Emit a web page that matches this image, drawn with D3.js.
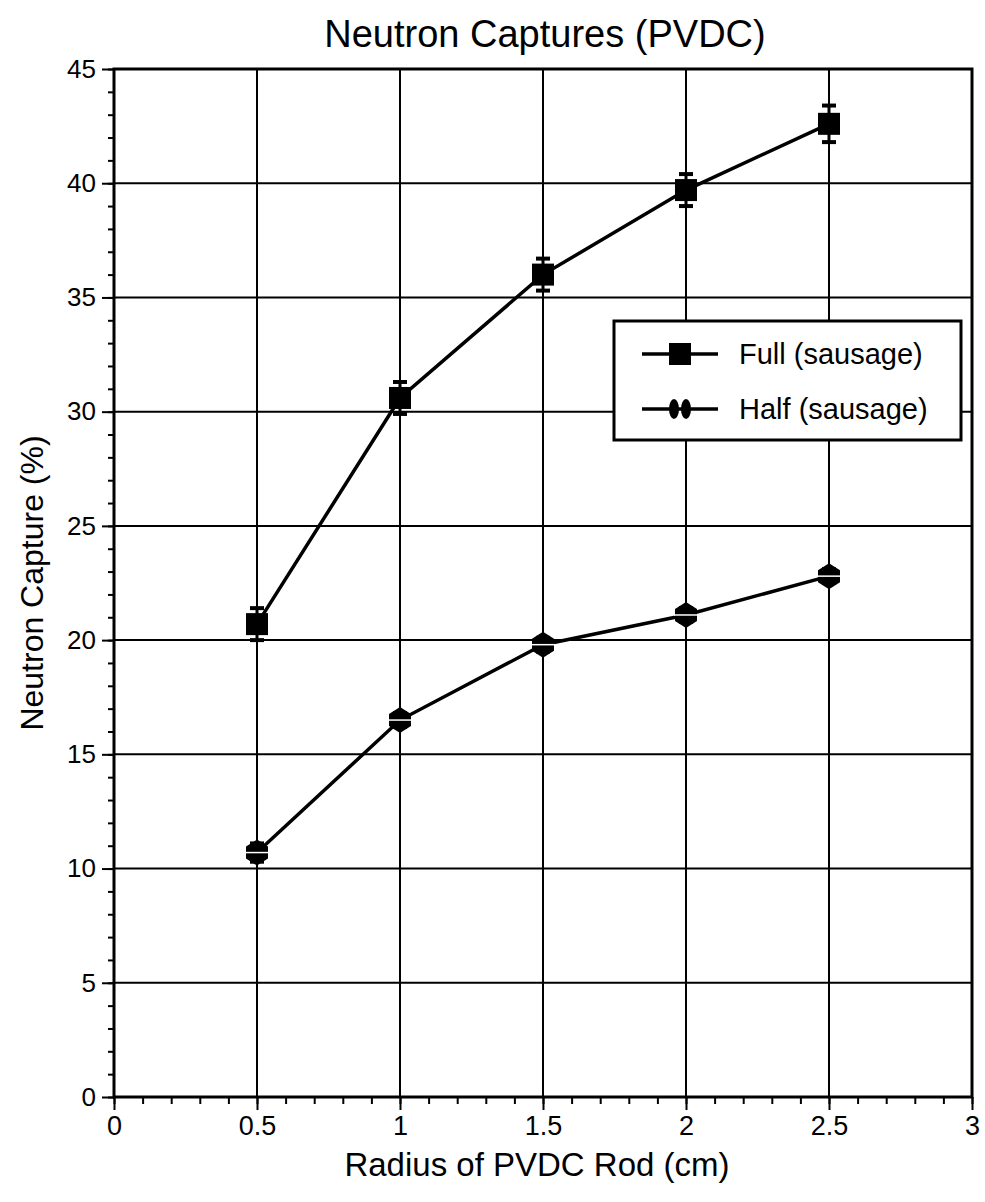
<!DOCTYPE html>
<html>
<head>
<meta charset="utf-8">
<script src="https://cdn.jsdelivr.net/npm/d3@7"></script>
<style>
  body { margin: 0; background: #fff; }
  svg text { font-family: "Liberation Sans", Arial, sans-serif; fill: #000; }
</style>
</head>
<body>
<svg width="985" height="1202"></svg>
<script>
// data
var radius = [0.5, 1.0, 1.5, 2.0, 2.5];
var fullCapture = [20.7, 30.6, 36.0, 39.7, 42.6];
var fullErr = [0.7, 0.7, 0.7, 0.7, 0.8];
var halfCapture = [10.7, 16.5, 19.8, 21.1, 22.8];
var halfErr = [0.4, 0.3, 0.3, 0.3, 0.3];
var xTicks = [0, 0.5, 1, 1.5, 2, 2.5, 3];
var yTicks = [0, 5, 10, 15, 20, 25, 30, 35, 40, 45];
var seriesNames = ["Full (sausage)", "Half (sausage)"];

var svg = d3.select("svg");
var pLeft = 114, pRight = 972, pTop = 69, pBottom = 1097;

var x = d3.scaleLinear().domain([0, 3]).range([pLeft, pRight]);
var y = d3.scaleLinear().domain([0, 45]).range([pBottom, pTop]);

// grid
var grid = svg.append("g").attr("stroke", "#000").attr("stroke-width", 2);
grid.selectAll("line.v").data(xTicks.slice(1, -1)).enter().append("line")
    .attr("x1", function(d) { return x(d); }).attr("x2", function(d) { return x(d); })
    .attr("y1", pTop).attr("y2", pBottom);
grid.selectAll("line.h").data(yTicks.slice(1, -1)).enter().append("line")
    .attr("x1", pLeft).attr("x2", pRight)
    .attr("y1", function(d) { return y(d); }).attr("y2", function(d) { return y(d); });

// minor ticks
var minorX = d3.range(0, 3.001, 0.1);
var minorY = d3.range(0, 45.001, 1);
svg.append("g").attr("transform", "translate(0," + pBottom + ")")
    .call(d3.axisBottom(x).tickValues(minorX).tickSize(7).tickFormat(""))
    .call(function(g) { g.select(".domain").remove(); g.selectAll("line").attr("stroke-width", 2); });
svg.append("g").attr("transform", "translate(" + pLeft + ",0)")
    .call(d3.axisLeft(y).tickValues(minorY).tickSize(6).tickFormat(""))
    .call(function(g) { g.select(".domain").remove(); g.selectAll("line").attr("stroke-width", 2); });

// major axes
var xAxis = svg.append("g").attr("transform", "translate(0," + pBottom + ")")
    .call(d3.axisBottom(x).tickValues(xTicks).tickSize(13).tickPadding(6).tickFormat(d3.format("")));
xAxis.select(".domain").remove();
xAxis.selectAll("line").attr("stroke-width", 2);
xAxis.selectAll("text").style("font-size", "27px");

var yAxis = svg.append("g").attr("transform", "translate(" + pLeft + ",0)")
    .call(d3.axisLeft(y).tickValues(yTicks).tickSize(12).tickPadding(6));
yAxis.select(".domain").remove();
yAxis.selectAll("line").attr("stroke-width", 2);
yAxis.selectAll("text").style("font-size", "26px");

// frame
svg.append("rect").attr("x", pLeft).attr("y", pTop)
    .attr("width", pRight - pLeft).attr("height", pBottom - pTop)
    .attr("fill", "none").attr("stroke", "#000").attr("stroke-width", 3);

var line = d3.line()
    .x(function(d) { return x(d[0]); })
    .y(function(d) { return y(d[1]); });

function drawSeries(vals, errs, marker) {
    var pts = radius.map(function(r, i) { return [r, vals[i], errs[i]]; });
    svg.append("path").datum(pts).attr("d", line)
        .attr("fill", "none").attr("stroke", "#000").attr("stroke-width", 3.5);
    var g = svg.append("g").selectAll("g").data(pts).enter().append("g")
        .attr("transform", function(d) { return "translate(" + x(d[0]) + "," + y(d[1]) + ")"; });
    g.append("line")
        .attr("y1", function(d) { return y(d[1] + d[2]) - y(d[1]); })
        .attr("y2", function(d) { return y(d[1] - d[2]) - y(d[1]); })
        .attr("stroke", "#000").attr("stroke-width", 3);
    g.selectAll("line.cap").data(function(d) { return [d[1] + d[2], d[1] - d[2]].map(function(v) { return y(v) - y(d[1]); }); })
        .enter().append("line")
        .attr("x1", -7).attr("x2", 7)
        .attr("y1", function(d) { return d; }).attr("y2", function(d) { return d; })
        .attr("stroke", "#000").attr("stroke-width", 4);
    marker(g);
}

function squareMarker(g) {
    g.append("rect").attr("x", -11).attr("y", -11).attr("width", 22).attr("height", 22).attr("fill", "#000");
}
function diamondMarker(g) {
    g.append("path").attr("d", "M0,-13 L11,-6 L11,6 L0,13 L-11,6 L-11,-6 Z").attr("fill", "#000");
    g.append("line").attr("x1", -12).attr("x2", 12).attr("stroke", "#fff").attr("stroke-width", 1.5);
}

drawSeries(fullCapture, fullErr, squareMarker);
drawSeries(halfCapture, halfErr, diamondMarker);

// legend
var legend = svg.append("g").attr("transform", "translate(614,321)");
legend.append("rect").attr("width", 347).attr("height", 119)
    .attr("fill", "#fff").attr("stroke", "#000").attr("stroke-width", 3);
var items = legend.selectAll("g.item").data(seriesNames).enter().append("g")
    .attr("transform", function(d, i) { return "translate(0," + (33 + i * 55) + ")"; });
items.append("line").attr("x1", 28).attr("x2", 104).attr("stroke", "#000").attr("stroke-width", 3.5);
items.filter(function(d, i) { return i === 0; }).append("rect")
    .attr("x", 55).attr("y", -11).attr("width", 22).attr("height", 22).attr("fill", "#000");
items.filter(function(d, i) { return i === 1; }).each(function() {
    var g = d3.select(this);
    g.append("ellipse").attr("cx", 60).attr("rx", 5).attr("ry", 10).attr("fill", "#000");
    g.append("ellipse").attr("cx", 72).attr("rx", 5).attr("ry", 10).attr("fill", "#000");
});
items.append("text").attr("x", 125).attr("y", 10).attr("font-size", 29)
    .text(function(d) { return d; });

// titles
svg.append("text").attr("x", 545).attr("y", 47).attr("text-anchor", "middle")
    .attr("font-size", 38).text("Neutron Captures (PVDC)");
svg.append("text").attr("x", 537).attr("y", 1176).attr("text-anchor", "middle")
    .attr("font-size", 33).text("Radius of PVDC Rod (cm)");
svg.append("text").attr("transform", "translate(43,583) rotate(-90)").attr("text-anchor", "middle")
    .attr("font-size", 32).text("Neutron Capture (%)");
</script>
</body>
</html>
